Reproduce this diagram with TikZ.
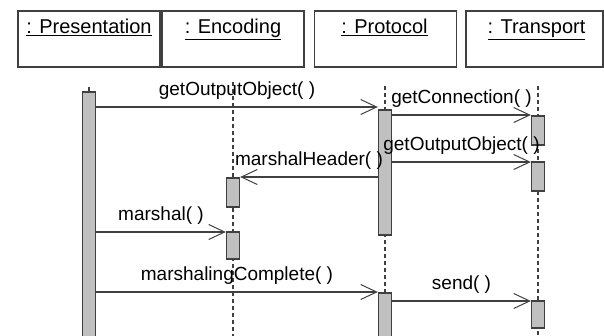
\documentclass[tikz,border=0pt]{standalone}
\usepackage{fontspec}
\setmainfont{Liberation Sans}
\usetikzlibrary{arrows.meta}
\definecolor{linegray}{RGB}{64,64,64}
\definecolor{bargray}{RGB}{192,192,192}
\tikzstyle{objbox} = [draw=linegray, line width=1.3pt, minimum width=142pt, minimum height=56pt, inner sep=0pt]
\tikzstyle{objname} = [anchor=base, font=\fontsize{20}{24}\selectfont]
\tikzstyle{bar} = [draw=linegray, fill=bargray, line width=1.3pt, minimum width=13pt, inner sep=0pt]
\tikzstyle{msg} = [draw=linegray, line width=1.3pt, -{Straight Barb[length=16pt,width=15pt,line width=1pt]}]
\tikzstyle{msgtext} = [midway, anchor=base, yshift=12pt, inner sep=0pt]
\tikzstyle{life} = [draw=linegray, line width=1.3pt, dash pattern=on 4pt off 3pt]

\begin{document}
\begin{tikzpicture}[x=1pt, y=-1pt, font=\fontsize{19}{22}\selectfont]
\clip (0,0) rectangle (604,335);
% object boxes
\node[objbox] (presBox) at (89,39) {};
\node[objbox] (encBox) at (233,39) {};
\node[objbox] (protBox) at (385.5,39) {};
\node[objbox, minimum width=137pt] (transBox) at (534.5,39) {};
\node[objname] (presName) at ([yshift=-23pt]presBox.north) {\underline{: Presentation}};
\node[objname] (encName) at ([yshift=-23pt]encBox.north) {\underline{: Encoding}};
\node[objname] (protName) at ([yshift=-23pt,xshift=-1pt]protBox.north) {\underline{: Protocol}};
\node[objname] (transName) at ([yshift=-23pt,xshift=2pt]transBox.north) {\underline{: Transport}};

% lifelines
\coordinate (presTop) at (89,87);
\coordinate (encTop) at (233,82);
\coordinate (protTop) at (385,86);
\coordinate (transTop) at (538,86);
\draw[life] (encTop) -- (encTop |- 0,340);
\draw[life] (protTop) -- (protTop |- 0,340);
\draw[life] (transTop) -- (transTop |- 0,340);

% activations
\node[bar, minimum height=253pt] (presBar) at (89,218.5) {};
\draw[draw=linegray, line width=1.3pt] (presTop) -- (presBar.north);
\node[bar, minimum height=125pt] (prot1) at (385,172.5) {};
\node[bar, minimum height=52pt] (prot2) at (385,319) {};
\node[bar, minimum height=29pt] (enc1) at (233,192.5) {};
\node[bar, minimum height=27pt] (enc2) at (233,245.5) {};
\node[bar, minimum height=29pt] (trans1) at (538,130.5) {};
\node[bar, minimum height=29pt] (trans2) at (538,176.5) {};
\node[bar, minimum height=27pt] (trans3) at (538,314.5) {};

% messages
\draw[msg] (presBar.east |- 0,107) -- (prot1.west |- 0,107) node[msgtext] (lblGetOut) {getOutputObject( )};
\draw[msg] (prot1.east |- 0,115) -- (trans1.west |- 0,115) node[msgtext] (lblGetConn) {getConnection( )};
\draw[msg] (prot1.east |- 0,162) -- (trans2.west |- 0,162) node[msgtext] (lblGetOut2) {getOutputObject( )};
\draw[msg] (prot1.west |- 0,177) -- (enc1.east |- 0,177) node[msgtext] (lblHeader) {marshalHeader( )};
\draw[msg] (presBar.east |- 0,232) -- (enc2.west |- 0,232) node[msgtext] (lblMarshal) {marshal( )};
\draw[msg] (presBar.east |- 0,292) -- (prot2.west |- 0,292) node[msgtext] (lblComplete) {marshalingComplete( )};
\draw[msg] (prot2.east |- 0,301) -- (trans3.west |- 0,301) node[msgtext] (lblSend) {send( )};
\end{tikzpicture}
\end{document}
